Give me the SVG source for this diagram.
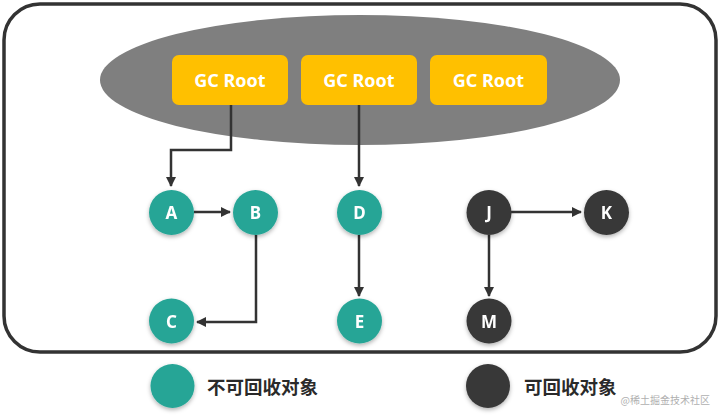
<svg xmlns="http://www.w3.org/2000/svg" width="720" height="419" viewBox="0 0 720 419">
<defs>
<style>
.root rect{fill:#FFC000}
.lbl{font-family:"Noto Sans","Open Sans",sans-serif;font-weight:700;fill:#fff;text-anchor:middle;dominant-baseline:central}
.root .lbl{font-size:18px}
.node .lbl{font-size:17px}
.live{fill:#27A596}
.dead{fill:#383838}
.edge{fill:none;stroke:#333;stroke-width:2.5}
.leg{font-family:"Noto Sans CJK SC","Noto Sans",sans-serif;font-weight:700;font-size:18.5px;fill:#2a2a2a;dominant-baseline:central}
</style>
<marker id="arr" viewBox="0 0 10 10" refX="9" refY="5" markerWidth="4" markerHeight="4" orient="auto" markerUnits="strokeWidth">
<path d="M0,0 L10,5 L0,10 z" fill="#333"/>
</marker>
<filter id="sh" x="-30%" y="-30%" width="160%" height="170%">
<feDropShadow dx="0" dy="2" stdDeviation="2" flood-color="#000" flood-opacity="0.3"/>
</filter>
</defs>
<rect x="0" y="0" width="720" height="419" fill="#fff"/>
<rect x="4" y="4" width="712" height="348" rx="36" ry="36" fill="#fff" stroke="#333" stroke-width="3.5"/>
<ellipse cx="360" cy="80" rx="260" ry="65" fill="#7F7F7F"/>
<g id="root1" class="root"><rect x="172" y="55" width="116" height="50" rx="7"/><text class="lbl" x="230" y="80">GC Root</text></g>
<g id="root2" class="root"><rect x="301" y="55" width="116" height="50" rx="7"/><text class="lbl" x="359" y="80">GC Root</text></g>
<g id="root3" class="root"><rect x="430" y="55" width="117" height="50" rx="7"/><text class="lbl" x="488.5" y="80">GC Root</text></g>
<g id="connectors">
<path class="edge" d="M231,105 V150 H171 V186" marker-end="url(#arr)"/>
<path class="edge" d="M359,105 V186" marker-end="url(#arr)"/>
<path class="edge" d="M194,212 H230" marker-end="url(#arr)"/>
<path class="edge" d="M256,235 V322 H197" marker-end="url(#arr)"/>
<path class="edge" d="M359,235 V296" marker-end="url(#arr)"/>
<path class="edge" d="M511,212 H581" marker-end="url(#arr)"/>
<path class="edge" d="M489,235 V296" marker-end="url(#arr)"/>
</g>
<g id="A" class="node" filter="url(#sh)"><circle class="live" cx="171.5" cy="212.5" r="22.5"/><text class="lbl" x="171.5" y="212.5">A</text></g>
<g id="B" class="node" filter="url(#sh)"><circle class="live" cx="255.5" cy="212.5" r="22.5"/><text class="lbl" x="255.5" y="212.5">B</text></g>
<g id="C" class="node" filter="url(#sh)"><circle class="live" cx="171.5" cy="321" r="22.5"/><text class="lbl" x="171.5" y="321">C</text></g>
<g id="D" class="node" filter="url(#sh)"><circle class="live" cx="359.5" cy="212.5" r="22.5"/><text class="lbl" x="359.5" y="212.5">D</text></g>
<g id="E" class="node" filter="url(#sh)"><circle class="live" cx="359.5" cy="321" r="22.5"/><text class="lbl" x="359.5" y="321">E</text></g>
<g id="J" class="node" filter="url(#sh)"><circle class="dead" cx="489" cy="212.5" r="22.5"/><text class="lbl" x="489" y="212.5">J</text></g>
<g id="K" class="node" filter="url(#sh)"><circle class="dead" cx="606.5" cy="212.5" r="22.5"/><text class="lbl" x="606.5" y="212.5">K</text></g>
<g id="M" class="node" filter="url(#sh)"><circle class="dead" cx="489" cy="321" r="22.5"/><text class="lbl" x="489" y="321">M</text></g>
<g id="legend-live"><circle class="live" cx="172.5" cy="386" r="22" filter="url(#sh)"/><text class="leg" x="207" y="386">不可回收对象</text></g>
<g id="legend-dead"><circle class="dead" cx="488" cy="386" r="22" filter="url(#sh)"/><text class="leg" x="524" y="386">可回收对象</text></g>
<text x="710" y="404" font-family="Noto Sans CJK SC,sans-serif" font-size="10" fill="#b0b0b0" text-anchor="end">@稀土掘金技术社区</text>
</svg>
